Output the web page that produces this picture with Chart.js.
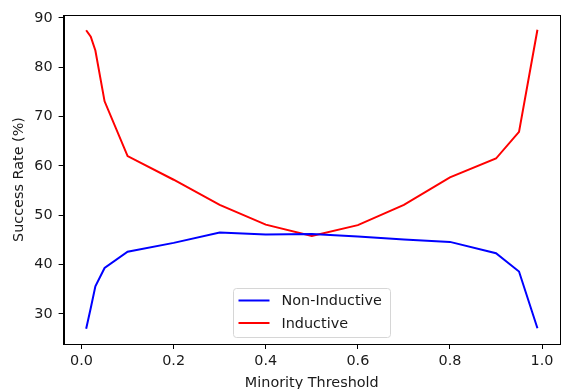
<!DOCTYPE html>
<html>
<head>
<meta charset="utf-8">
<script src="https://cdn.jsdelivr.net/npm/chart.js@4.4.1/dist/chart.umd.min.js"></script>
<style>
  html, body { margin: 0; padding: 0; background: #fff; }
  #wrap { width: 566px; height: 389px; }
</style>
</head>
<body>
<div id="wrap"><canvas id="chart"></canvas></div>
<script>
// Minority threshold values (x) and success rates (%)
const thresholds = [0.01, 0.02, 0.03, 0.05, 0.1, 0.2, 0.3, 0.4, 0.5, 0.6, 0.7, 0.8, 0.9, 0.95, 0.99];
const nonInductive = [27.0, 31.2, 35.6, 39.3, 42.6, 44.4, 46.5, 46.1, 46.2, 45.7, 45.1, 44.6, 42.3, 38.6, 27.1];
const inductive = [87.5, 86.2, 83.4, 73.1, 62.0, 57.2, 52.1, 48.1, 45.8, 48.0, 52.1, 57.7, 61.5, 66.9, 87.6];
const seriesLabels = ['Non-Inductive', 'Inductive'];
const xTicks = [0.0, 0.2, 0.4, 0.6, 0.8, 1.0];
const yTicks = [30, 40, 50, 60, 70, 80, 90];

const textColor = '#1a1a1a';
const fontFamily = '"DejaVu Sans", sans-serif';
const fontSize = 14.4;

function toPoints(values) {
    return thresholds.map((t, i) => ({ x: t, y: values[i] }));
}

// Draws the top/right spines like matplotlib
const framePlugin = {
    id: 'frame',
    afterDatasetsDraw(chart) {
        const { ctx, chartArea: a } = chart;
        ctx.save();
        ctx.strokeStyle = '#000';
        ctx.lineWidth = 1;
        ctx.strokeRect(Math.round(a.left) + 0.5, Math.round(a.top) + 0.5,
            Math.round(a.right - a.left), Math.round(a.bottom - a.top));
        ctx.restore();
    }
};

// Legend box inside the plot, lower centre
const innerLegend = {
    id: 'innerLegend',
    afterDraw(chart) {
        const { ctx, chartArea: a } = chart;
        const boxW = 157, boxH = 49;
        const cx = (a.left + a.right) / 2;
        const x0 = Math.round(cx - boxW / 2) + 0.5;
        const y0 = Math.round(a.bottom - 7 - boxH) + 0.5;
        ctx.save();
        ctx.fillStyle = 'rgba(255,255,255,0.8)';
        ctx.strokeStyle = '#d6d6d6';
        ctx.lineWidth = 1;
        ctx.beginPath();
        ctx.roundRect(x0, y0, boxW, boxH, 3);
        ctx.fill();
        ctx.stroke();
        ctx.font = fontSize + 'px ' + fontFamily;
        ctx.textBaseline = 'middle';
        chart.data.datasets.forEach((ds, i) => {
            const y = y0 + 12 + i * 22.5;
            ctx.strokeStyle = ds.borderColor;
            ctx.lineWidth = 2;
            ctx.beginPath();
            ctx.moveTo(x0 + 5, y);
            ctx.lineTo(x0 + 36, y);
            ctx.stroke();
            ctx.fillStyle = textColor;
            ctx.fillText(ds.label, x0 + 48, y + 1);
        });
        ctx.restore();
    }
};

const ctx = document.getElementById('chart').getContext('2d');
new Chart(ctx, {
    type: 'line',
    data: {
        datasets: [{
            label: seriesLabels[0],
            data: toPoints(nonInductive),
            borderColor: '#0000ff',
            borderWidth: 2,
            pointRadius: 0,
            tension: 0
        }, {
            label: seriesLabels[1],
            data: toPoints(inductive),
            borderColor: '#ff0000',
            borderWidth: 2,
            pointRadius: 0,
            tension: 0
        }]
    },
    options: {
        responsive: true,
        maintainAspectRatio: false,
        animation: false,
        layout: {
            padding: { top: 15, right: 6, left: 0, bottom: 0 }
        },
        scales: {
            x: {
                type: 'linear',
                min: -0.039,
                max: 1.039,
                afterBuildTicks: function(scale) {
                    scale.ticks = xTicks.map(v => ({ value: v }));
                },
                afterFit: function(scale) {
                    scale.height = 45;
                },
                ticks: {
                    color: textColor,
                    padding: 4,
                    font: { family: fontFamily, size: fontSize },
                    callback: function(value) {
                        return value.toFixed(1);
                    }
                },
                grid: {
                    drawOnChartArea: false,
                    drawTicks: true,
                    tickLength: 5,
                    tickColor: '#000'
                },
                border: { display: true, color: '#000', width: 1 },
                title: {
                    display: true,
                    text: 'Minority Threshold',
                    color: textColor,
                    padding: { top: 0, bottom: -3 },
                    font: { family: fontFamily, size: fontSize }
                }
            },
            y: {
                type: 'linear',
                min: 23.9,
                max: 90.6,
                afterBuildTicks: function(scale) {
                    scale.ticks = yTicks.map(v => ({ value: v }));
                },
                afterFit: function(scale) {
                    scale.width = 63.6;
                },
                ticks: {
                    color: textColor,
                    padding: 6,
                    font: { family: fontFamily, size: fontSize }
                },
                grid: {
                    drawOnChartArea: false,
                    drawTicks: true,
                    tickLength: 5,
                    tickColor: '#000'
                },
                border: { display: true, color: '#000', width: 1 },
                title: {
                    display: true,
                    text: 'Success Rate (%)',
                    color: textColor,
                    padding: { top: 11, bottom: 0 },
                    font: { family: fontFamily, size: fontSize }
                }
            }
        },
        plugins: {
            legend: { display: false },
            tooltip: { enabled: false }
        }
    },
    plugins: [framePlugin, innerLegend]
});
</script>
</body>
</html>
